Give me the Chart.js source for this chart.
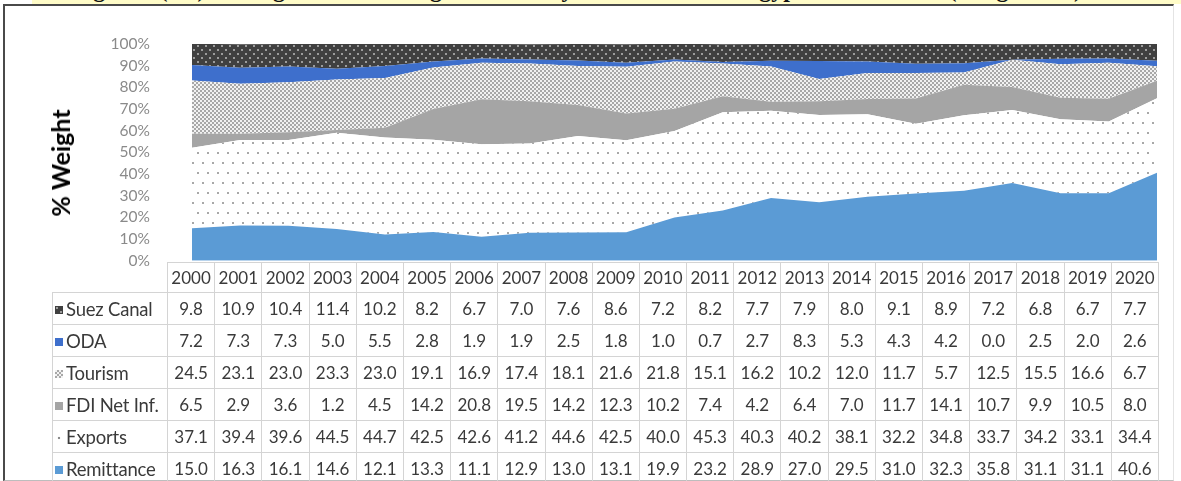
<!DOCTYPE html>
<html lang="en">
<head>
    <meta charset="UTF-8">
    <title>Foreign Currency Sources - Egypt</title>
    <style>
        body {
            margin: 0;
            padding: 0;
            width: 1181px;
            height: 481px;
            overflow: hidden;
            background: #ffffff;
            font-family: Lato, "Open Sans", sans-serif;
            position: relative;
        }

        #titleBand {
            position: absolute;
            left: 32px;
            top: 0;
            width: 1149px;
            height: 4px;
            background: #fffcc8;
            overflow: hidden;
        }

        #titleBand span {
            position: absolute;
            left: 40px;
            top: -23px;
            font-family: "Liberation Serif", serif;
            font-weight: bold;
            font-size: 24px;
            line-height: 24px;
            white-space: nowrap;
            color: #111;
            word-spacing: 14px;
        }

        #frame {
            position: absolute;
            left: 3px;
            top: 4px;
            width: 1168px;
            height: 474px;
            border-top: 2px solid #4a4a4a;
            border-left: 2px solid #4a4a4a;
            border-right: 1px solid #e4e4e4;
            border-bottom: 1px solid #bdbdbd;
        }

        #chart {
            position: absolute;
            left: 0;
            top: 0;
        }

        #yTitle {
            position: absolute;
            left: 60px;
            top: 163px;
            transform: translate(-50%, -50%) rotate(-90deg);
            font-size: 25px;
            font-weight: bold;
            color: #000;
            white-space: nowrap;
        }

        #dataTable {
            position: absolute;
            left: 52px;
            top: 262px;
            border-collapse: collapse;
            table-layout: fixed;
            font-size: 17px;
            color: #3a3a3a;
        }

        #dataTable td, #dataTable th {
            border: 1px solid #d4d4d4;
            padding: 0;
            text-align: center;
            font-weight: normal;
            white-space: nowrap;
        }

        #dataTable th { height: 29px; }
        #dataTable td { height: 31px; }

        #dataTable th.blank {
            border: none;
        }

        #dataTable td.name {
            text-align: left;
            padding-left: 2px;
            font-size: 18.5px;
            letter-spacing: -0.2px;
        }

        .key {
            display: inline-block;
            width: 8px;
            height: 8px;
            margin-right: 3px;
            vertical-align: 2px;
        }
    </style>
</head>
<body>
    <div id="titleBand"><span>Figure (3.1): Weights of Foreign Currency Sources for Egypt 2000-2020 (Weight %)</span></div>
    <div id="frame"></div>
    <canvas id="chart" width="1181" height="304"></canvas>
    <div id="yTitle">% Weight</div>
    <table id="dataTable"></table>

    <script src="https://cdn.jsdelivr.net/npm/chart.js@4/dist/chart.umd.min.js"></script>
    <script>
        const years = ['2000', '2001', '2002', '2003', '2004', '2005', '2006', '2007', '2008', '2009', '2010',
                       '2011', '2012', '2013', '2014', '2015', '2016', '2017', '2018', '2019', '2020'];

        const suezCanal  = [9.8, 10.9, 10.4, 11.4, 10.2, 8.2, 6.7, 7.0, 7.6, 8.6, 7.2, 8.2, 7.7, 7.9, 8.0, 9.1, 8.9, 7.2, 6.8, 6.7, 7.7];
        const oda        = [7.2, 7.3, 7.3, 5.0, 5.5, 2.8, 1.9, 1.9, 2.5, 1.8, 1.0, 0.7, 2.7, 8.3, 5.3, 4.3, 4.2, 0.0, 2.5, 2.0, 2.6];
        const tourism    = [24.5, 23.1, 23.0, 23.3, 23.0, 19.1, 16.9, 17.4, 18.1, 21.6, 21.8, 15.1, 16.2, 10.2, 12.0, 11.7, 5.7, 12.5, 15.5, 16.6, 6.7];
        const fdiNetInf  = [6.5, 2.9, 3.6, 1.2, 4.5, 14.2, 20.8, 19.5, 14.2, 12.3, 10.2, 7.4, 4.2, 6.4, 7.0, 11.7, 14.1, 10.7, 9.9, 10.5, 8.0];
        const exportsPct = [37.1, 39.4, 39.6, 44.5, 44.7, 42.5, 42.6, 41.2, 44.6, 42.5, 40.0, 45.3, 40.3, 40.2, 38.1, 32.2, 34.8, 33.7, 34.2, 33.1, 34.4];
        const remittance = [15.0, 16.3, 16.1, 14.6, 12.1, 13.3, 11.1, 12.9, 13.0, 13.1, 19.9, 23.2, 28.9, 27.0, 29.5, 31.0, 32.3, 35.8, 31.1, 31.1, 40.6];

        const yTicks = [0, 10, 20, 30, 40, 50, 60, 70, 80, 90, 100];

        // small tiles used as fill patterns
        function makeTile(w, h, base, dotColor, dots, dotSize) {
            const c = document.createElement('canvas');
            c.width = w;
            c.height = h;
            const ctx = c.getContext('2d');
            ctx.fillStyle = base;
            ctx.fillRect(0, 0, w, h);
            ctx.fillStyle = dotColor;
            dots.forEach(d => ctx.fillRect(d[0], d[1], dotSize, dotSize));
            return c;
        }

        const suezTile = makeTile(8, 8, '#404040', '#9c9c9c', [[1, 1], [5, 5]], 2);
        const tourismTile = makeTile(4, 4, '#a8a8a8', '#f2f2f2', [[0, 0], [2, 2]], 2);
        const exportsTile = makeTile(20, 20, '#ffffff', '#a8a8a8', [[2, 2], [12, 2], [7, 12], [17, 12]], 2);

        const pctx = document.createElement('canvas').getContext('2d');
        const suezFill = pctx.createPattern(suezTile, 'repeat');
        const tourismFill = pctx.createPattern(tourismTile, 'repeat');
        const exportsFill = pctx.createPattern(exportsTile, 'repeat');

        const series = [
            { name: 'Suez Canal',    values: suezCanal,  fill: suezFill,    key: 'url(' + suezTile.toDataURL() + ')' },
            { name: 'ODA',           values: oda,        fill: '#3e6fcc',   key: '#3e6fcc' },
            { name: 'Tourism',       values: tourism,    fill: tourismFill, key: 'url(' + tourismTile.toDataURL() + ')' },
            { name: 'FDI Net Inf.',  values: fdiNetInf,  fill: '#a5a5a5',   key: '#a5a5a5' },
            { name: 'Exports',       values: exportsPct, fill: exportsFill, key: 'radial-gradient(circle, #8a8a8a 0 1.2px, #ffffff 1.6px)' },
            { name: 'Remittance',    values: remittance, fill: '#5b9bd5',   key: '#5b9bd5' }
        ];

        // stacked bottom-up: remittance first
        const datasets = series.slice().reverse().map((s, i) => ({
            label: s.name,
            data: s.values,
            backgroundColor: s.fill,
            borderWidth: 0,
            pointRadius: 0,
            tension: 0,
            fill: i === 0 ? 'origin' : '-1'
        }));

        new Chart(document.getElementById('chart'), {
            type: 'line',
            data: { labels: years, datasets: datasets },
            options: {
                responsive: false,
                animation: false,
                layout: { padding: { top: 44, bottom: 10, right: 24, left: 0 } },
                plugins: { legend: { display: false }, tooltip: { enabled: false } },
                scales: {
                    x: { display: false, offset: false },
                    y: {
                        stacked: true,
                        min: 0,
                        max: 100,
                        afterFit: scale => { scale.width = 192; },
                        afterBuildTicks: scale => { scale.ticks = yTicks.map(v => ({ value: v })); },
                        grid: { display: false },
                        border: { display: false },
                        ticks: {
                            autoSkip: false,
                            padding: 34,
                            color: '#8a8a8a',
                            font: { family: 'Lato', size: 15.5 },
                            callback: v => v + '%'
                        }
                    }
                }
            }
        });

        // data table under the chart
        const table = document.getElementById('dataTable');
        let html = '<colgroup><col style="width:115px">' + years.map(() => '<col style="width:47.2px">').join('') + '</colgroup>';
        html += '<tr><th class="blank"></th>' + years.map(y => '<th>' + y + '</th>').join('') + '</tr>';
        series.forEach(s => {
            html += '<tr><td class="name"><span class="key" style="background:' + s.key + '"></span>' + s.name + '</td>' +
                s.values.map(v => '<td>' + v.toFixed(1) + '</td>').join('') + '</tr>';
        });
        table.innerHTML = html;
    </script>
</body>
</html>
